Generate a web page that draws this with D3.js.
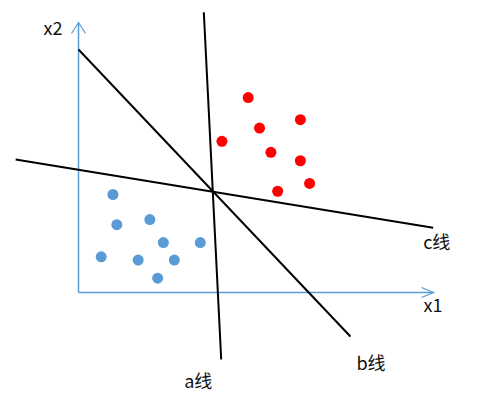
<!DOCTYPE html>
<html>
<head>
<meta charset="utf-8">
<script src="https://cdn.jsdelivr.net/npm/d3@7"></script>
<style>
  html, body { margin: 0; padding: 0; background: #fff; }
  svg { display: block; }
  text { font-family: "Noto Sans CJK SC", "Noto Sans", sans-serif; fill: #111; }
</style>
</head>
<body>
<svg id="chart" width="488" height="411"></svg>
<script>
// ---- data (in axis units) ----
const redX  = [4.78, 6.25, 5.10, 4.04, 5.42, 6.25, 6.51, 5.61];
const redY  = [7.22, 6.40, 6.09, 5.60, 5.19, 4.88, 4.04, 3.75];
const blueX = [0.97, 1.08, 2.01, 2.39, 3.43, 0.64, 1.68, 2.70, 2.23];
const blueY = [3.63, 2.51, 2.70, 1.85, 1.85, 1.32, 1.20, 1.20, 0.53];
const lineNames = ["a线", "b线", "c线"];
const lineX1 = [3.53, 0.00, -1.77];
const lineY1 = [10.38, 9.00, 4.93];
const lineX2 = [4.02, 7.66, 9.99];
const lineY2 = [-2.48, -1.63, 2.40];
const axisNames = ["x1", "x2"];

// ---- scales ----
const svg = d3.select("#chart");
const x = d3.scaleLinear().domain([0, 10]).range([78.5, 433.5]);
const y = d3.scaleLinear().domain([0, 10]).range([292.5, 22.5]);

const axisColor = "#5B9BD5";

// axes
const g = svg.append("g");
g.append("line").attr("x1", x(0)).attr("y1", y(0)).attr("x2", x(10)).attr("y2", y(0))
  .attr("stroke", axisColor).attr("stroke-width", 1.5);
g.append("line").attr("x1", x(0)).attr("y1", y(0)).attr("x2", x(0)).attr("y2", y(10))
  .attr("stroke", axisColor).attr("stroke-width", 1.5);
// arrow heads (open chevrons)
g.append("path")
  .attr("d", `M${x(10) - 12},${y(0) - 5} L${x(10)},${y(0)} L${x(10) - 12},${y(0) + 5}`)
  .attr("fill", "none").attr("stroke", axisColor).attr("stroke-width", 1.2);
g.append("path")
  .attr("d", `M${x(0) - 7},${y(10) + 11} L${x(0)},${y(10)} L${x(0) + 7},${y(10) + 11}`)
  .attr("fill", "none").attr("stroke", axisColor).attr("stroke-width", 1.2);

// axis labels
svg.append("text").attr("x", x(10) - 10).attr("y", y(0) + 19)
  .attr("font-size", 18).text(axisNames[0]);
svg.append("text").attr("x", x(0) - 35).attr("y", y(10) + 12)
  .attr("font-size", 18).text(axisNames[1]);

// separating lines
const lines = lineNames.map((n, i) => ({n, x1: lineX1[i], y1: lineY1[i], x2: lineX2[i], y2: lineY2[i]}));
svg.append("g").selectAll("line").data(lines).join("line")
  .attr("x1", d => x(d.x1)).attr("y1", d => y(d.y1))
  .attr("x2", d => x(d.x2)).attr("y2", d => y(d.y2))
  .attr("stroke", "#000").attr("stroke-width", 2);

// line labels (offset from lower end of each line)
const labelDx = [-37, 6, -10];
const labelDy = [29, 33, 21];
svg.append("g").selectAll("text").data(lines).join("text")
  .attr("x", (d, i) => x(d.x2) + labelDx[i])
  .attr("y", (d, i) => y(d.y2) + labelDy[i])
  .attr("font-size", 18)
  .text(d => d.n);

// points
const red = redX.map((v, i) => ({x: v, y: redY[i]}));
const blue = blueX.map((v, i) => ({x: v, y: blueY[i]}));
svg.append("g").selectAll("circle").data(red).join("circle")
  .attr("cx", d => x(d.x)).attr("cy", d => y(d.y)).attr("r", 5.5).attr("fill", "#FF0000");
svg.append("g").selectAll("circle").data(blue).join("circle")
  .attr("cx", d => x(d.x)).attr("cy", d => y(d.y)).attr("r", 5.5).attr("fill", "#5B9BD5");
</script>
</body>
</html>
